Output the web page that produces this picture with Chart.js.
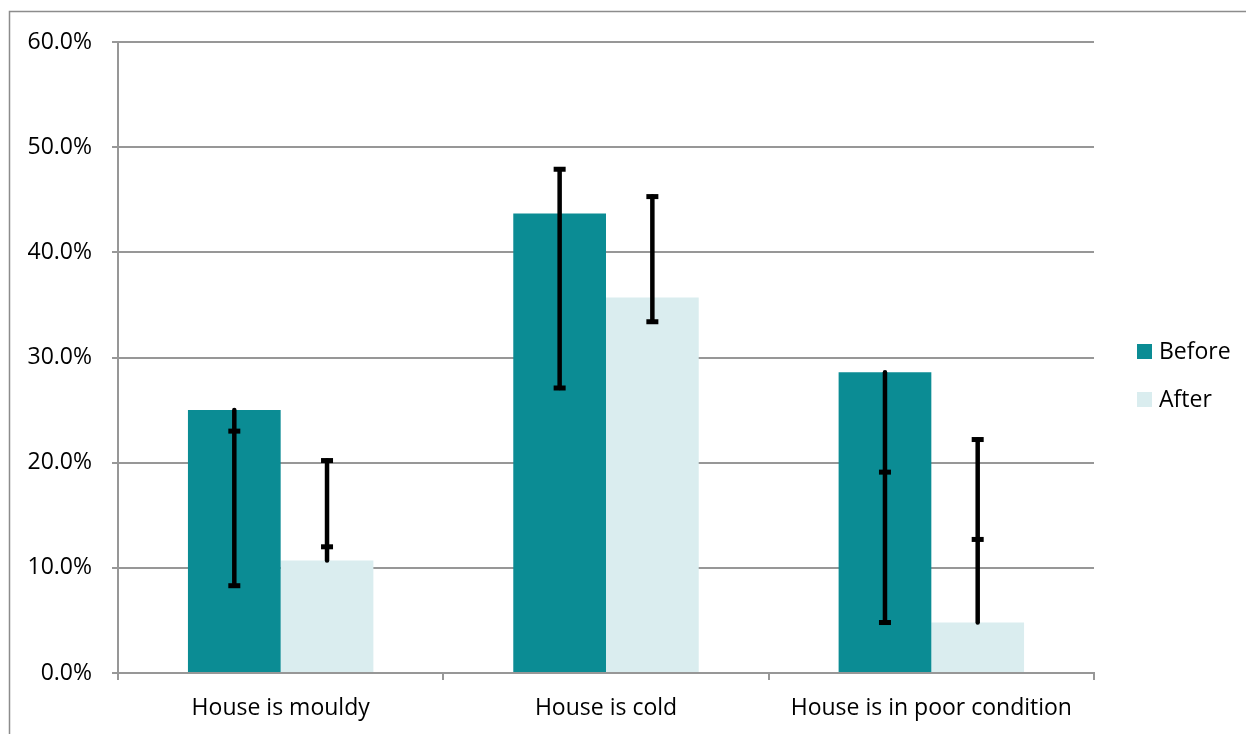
<!DOCTYPE html>
<html>
<head>
<meta charset="utf-8">
<script src="https://cdn.jsdelivr.net/npm/chart.js@4/dist/chart.umd.min.js"></script>
<style>
  html, body { margin: 0; padding: 0; background: #ffffff; overflow: hidden; }
  #wrap { position: relative; width: 1246px; height: 734px; }
</style>
</head>
<body>
<div id="wrap"><canvas id="c" width="1246" height="734"></canvas></div>
<script>
// ---- Data ----
const categories = ['House is mouldy', 'House is cold', 'House is in poor condition'];
const seriesNames = ['Before', 'After'];
const beforeValues = [25.0, 43.7, 28.6];
const afterValues = [10.7, 35.7, 4.8];
// error bar ranges (low / high) and cap marks
const beforeErrLow = [8.3, 27.1, 4.8];
const beforeErrHigh = [25.0, 47.9, 28.6];
const beforeCaps = [[23.0, 8.3], [47.9, 27.1], [19.1, 4.8]];
const afterErrLow = [10.7, 33.4, 4.8];
const afterErrHigh = [20.2, 45.3, 22.2];
const afterCaps = [[20.2, 12.0], [45.3, 33.4], [22.2, 12.7]];
const yTicks = [0, 10, 20, 30, 40, 50, 60];

const colors = ['#0b8c94', '#daedef'];
const gridColor = '#979797';
const FONT = "'Open Sans', sans-serif";
const FSIZE = 23;

const errorData = [
  { low: beforeErrLow, high: beforeErrHigh, caps: beforeCaps },
  { low: afterErrLow, high: afterErrHigh, caps: afterCaps }
];

const framePlugin = {
  id: 'frame',
  beforeDraw(chart) {
    const ctx = chart.ctx;
    ctx.save();
    ctx.strokeStyle = '#8c8c8c';
    ctx.lineWidth = 1.5;
    ctx.strokeRect(9.5, 11.5, chart.width + 50, chart.height + 50);
    ctx.restore();
  }
};

const errorBarPlugin = {
  id: 'errorBars',
  afterDatasetsDraw(chart) {
    const ctx = chart.ctx;
    const y = chart.scales.y;
    ctx.save();
    errorData.forEach((ed, di) => {
      const meta = chart.getDatasetMeta(di);
      meta.data.forEach((bar, i) => {
        const x = bar.x;
        const yl = y.getPixelForValue(ed.low[i]);
        const yh = y.getPixelForValue(ed.high[i]);
        ctx.strokeStyle = '#000';
        ctx.lineWidth = 4.5;
        ctx.lineCap = 'round';
        ctx.beginPath();
        ctx.moveTo(x, yl);
        ctx.lineTo(x, yh);
        ctx.stroke();
        ctx.fillStyle = '#000';
        ed.caps[i].forEach(v => {
          const yc = y.getPixelForValue(v);
          ctx.fillRect(x - 6, yc - 2.5, 12, 5);
        });
      });
    });
    ctx.restore();
  }
};

const legendPlugin = {
  id: 'customLegend',
  afterDraw(chart) {
    const ctx = chart.ctx;
    const area = chart.chartArea;
    const x0 = area.right + 43;
    const yMid = (area.top + area.bottom) / 2 + 18;
    const gap = 48;
    ctx.save();
    ctx.font = FSIZE + 'px ' + FONT;
    ctx.textBaseline = 'middle';
    ctx.textAlign = 'left';
    seriesNames.forEach((name, i) => {
      const cy = yMid + (i - 0.5) * gap;
      ctx.fillStyle = colors[i];
      ctx.fillRect(x0, cy - 7.5, 15, 15);
      ctx.fillStyle = '#000';
      ctx.fillText(name, x0 + 22, cy + 1);
    });
    ctx.restore();
  }
};

new Chart(document.getElementById('c'), {
  type: 'bar',
  data: {
    labels: categories,
    datasets: [
      { label: seriesNames[0], data: beforeValues, backgroundColor: colors[0], borderWidth: 0 },
      { label: seriesNames[1], data: afterValues, backgroundColor: colors[1], borderWidth: 0 }
    ]
  },
  options: {
    responsive: false,
    animation: false,
    devicePixelRatio: 1,
    layout: { padding: { left: 0, top: 42, right: 152, bottom: 0 } },
    plugins: { legend: { display: false }, tooltip: { enabled: false } },
    datasets: { bar: { categoryPercentage: 0.57, barPercentage: 1.0 } },
    scales: {
      x: {
        offset: true,
        grid: { offset: true, drawOnChartArea: false, drawTicks: true, tickLength: 7, color: gridColor, lineWidth: 2 },
        border: { display: true, color: gridColor, width: 2 },
        ticks: { color: '#000', font: { family: FONT, size: FSIZE }, padding: 15, maxRotation: 0 },
        afterFit(scale) { scale.height = 61; }
      },
      y: {
        min: 0, max: 60,
        afterBuildTicks(scale) { scale.ticks = yTicks.map(v => ({ value: v })); },
        grid: { color: gridColor, lineWidth: 2, tickLength: 6, drawTicks: true },
        border: { display: true, color: gridColor, width: 2 },
        ticks: { color: '#000', font: { family: FONT, size: FSIZE }, padding: 20,
          callback: v => Number(v).toFixed(1) + '%' },
        afterFit(scale) { scale.width = 118; }
      }
    }
  },
  plugins: [framePlugin, errorBarPlugin, legendPlugin]
});
</script>
</body>
</html>
